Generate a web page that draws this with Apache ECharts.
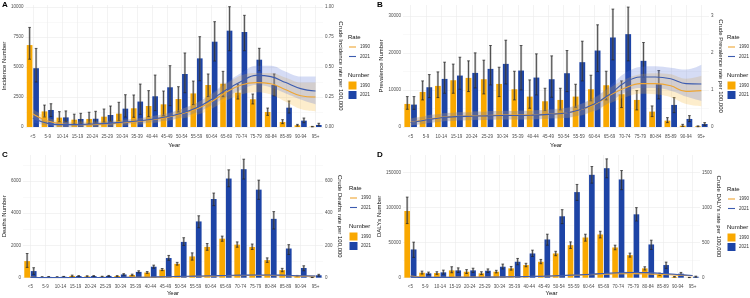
<!DOCTYPE html>
<html>
<head>
<meta charset="utf-8">
<title>Burden by age group, 1990 vs 2021</title>
<script src="https://cdn.jsdelivr.net/npm/echarts@6/dist/echarts.min.js"></script>
<style>
html, body { margin: 0; padding: 0; background: #fff; }
#main { width: 750px; height: 298px; }
</style>
</head>
<body>
<div id="main"></div>
<script>
var ageGroups = ['<5', '5-9', '10-14', '15-19', '20-24', '25-29', '30-34', '35-39', '40-44', '45-49',
    '50-54', '55-59', '60-64', '65-69', '70-74', '75-79', '80-84', '85-89', '90-94', '95+'];

// A - incidence
var inc1990   = [6830, 1300, 780, 610, 670, 860, 1110, 1560, 1750, 1890, 2330, 2800, 3500, 3610, 2860, 2310, 1250, 420, 140, 30];
var inc1990Lo = [5650, 830, 440, 250, 300, 410, 530, 810, 860, 940, 1250, 1860, 2530, 2530, 2330, 1920, 970, 280, 80, 10];
var inc1990Hi = [8300, 1830, 1280, 1070, 1230, 1500, 2060, 2670, 3030, 3000, 3360, 3830, 4420, 4640, 3580, 2750, 1580, 610, 220, 50];
var inc2021   = [4900, 1420, 800, 670, 690, 1000, 1530, 2120, 2560, 3310, 4420, 5720, 7110, 8030, 7920, 5610, 3500, 1610, 530, 170];
var inc2021Lo = [3750, 880, 470, 300, 330, 470, 830, 1060, 1360, 1780, 2860, 3860, 5500, 6360, 6360, 4690, 2600, 1170, 360, 110];
var inc2021Hi = [6550, 1940, 1340, 1140, 1310, 1750, 2690, 3580, 4330, 5110, 6170, 7530, 8780, 10030, 9310, 6560, 4420, 2170, 750, 310];
var incR1990   = [0.108, 0.05, 0.025, 0.02, 0.02, 0.025, 0.035, 0.045, 0.06, 0.08, 0.11, 0.15, 0.21, 0.29, 0.35, 0.37, 0.36, 0.31, 0.26, 0.25];
var incR1990Lo = [0.07, 0.02, 0.0, 0.0, 0.0, 0.0, 0.01, 0.02, 0.03, 0.05, 0.07, 0.1, 0.15, 0.22, 0.27, 0.29, 0.27, 0.21, 0.15, 0.13];
var incR1990Hi = [0.15, 0.08, 0.05, 0.045, 0.045, 0.05, 0.06, 0.07, 0.09, 0.11, 0.15, 0.2, 0.27, 0.36, 0.43, 0.45, 0.45, 0.41, 0.37, 0.37];
var incR2021   = [0.075, 0.03, 0.02, 0.02, 0.025, 0.03, 0.04, 0.05, 0.065, 0.085, 0.115, 0.16, 0.23, 0.31, 0.38, 0.43, 0.42, 0.37, 0.32, 0.30];
var incR2021Lo = [0.04, 0.01, 0.0, 0.005, 0.01, 0.015, 0.025, 0.03, 0.04, 0.055, 0.08, 0.12, 0.18, 0.25, 0.31, 0.35, 0.33, 0.28, 0.23, 0.19];
var incR2021Hi = [0.11, 0.055, 0.04, 0.035, 0.04, 0.045, 0.055, 0.07, 0.09, 0.115, 0.15, 0.2, 0.28, 0.37, 0.45, 0.51, 0.51, 0.46, 0.42, 0.42];

// B - prevalence
var prev1990   = [6220, 9460, 11080, 12610, 13240, 12880, 11620, 10180, 8200, 6940, 7300, 8200, 10180, 11260, 8830, 7300, 4150, 1720, 360, 180];
var prev1990Lo = [4780, 7300, 7930, 9100, 9550, 8920, 8200, 7300, 5050, 4420, 4600, 5320, 7030, 7300, 5230, 4600, 2800, 1180, 150, 80];
var prev1990Hi = [8200, 12430, 14860, 16960, 17840, 18020, 16120, 15040, 12700, 10450, 10450, 11530, 13960, 15040, 12430, 9820, 5680, 2530, 720, 300];
var prev2021   = [6040, 10720, 12970, 13870, 14590, 15670, 17020, 15220, 13330, 12880, 14500, 17480, 20620, 24140, 25040, 17840, 11530, 5950, 2170, 810];
var prev2021Lo = [4780, 7930, 9100, 10180, 10540, 11350, 11620, 10000, 8650, 8020, 9550, 12430, 14950, 18100, 17840, 13420, 7570, 3880, 1450, 450];
var prev2021Hi = [8200, 14140, 17480, 18820, 19990, 21970, 23410, 21970, 19720, 19180, 20620, 23140, 27560, 31800, 32340, 22780, 15220, 7930, 3070, 1180];
var prevR1990   = [0.13, 0.2, 0.26, 0.29, 0.3, 0.31, 0.32, 0.32, 0.33, 0.35, 0.37, 0.45, 0.6, 0.85, 1.05, 1.17, 1.17, 1.11, 0.96, 0.98];
var prevR1990Lo = [0.04, 0.1, 0.15, 0.18, 0.19, 0.2, 0.2, 0.2, 0.21, 0.23, 0.24, 0.3, 0.42, 0.63, 0.8, 0.9, 0.88, 0.8, 0.62, 0.56];
var prevR1990Hi = [0.23, 0.31, 0.37, 0.4, 0.42, 0.43, 0.44, 0.44, 0.45, 0.47, 0.5, 0.6, 0.78, 1.05, 1.28, 1.42, 1.45, 1.42, 1.3, 1.38];
var prevR2021   = [0.12, 0.19, 0.25, 0.28, 0.29, 0.3, 0.31, 0.31, 0.32, 0.34, 0.37, 0.46, 0.62, 0.88, 1.2, 1.35, 1.35, 1.3, 1.17, 1.16];
var prevR2021Lo = [0.03, 0.09, 0.14, 0.17, 0.18, 0.19, 0.2, 0.2, 0.2, 0.22, 0.24, 0.31, 0.44, 0.66, 0.93, 1.05, 1.05, 0.98, 0.82, 0.7];
var prevR2021Hi = [0.22, 0.3, 0.36, 0.39, 0.4, 0.42, 0.43, 0.43, 0.44, 0.47, 0.51, 0.61, 0.8, 1.1, 1.45, 1.62, 1.64, 1.6, 1.55, 1.68];

// C - deaths
var death1990   = [1030, 40, 40, 110, 80, 60, 100, 170, 320, 500, 860, 1320, 1910, 2420, 2050, 1910, 1090, 470, 100, 20];
var death1990Lo = [640, 25, 25, 60, 50, 40, 70, 130, 270, 440, 780, 1090, 1700, 2260, 1890, 1750, 950, 370, 70, 10];
var death1990Hi = [1500, 60, 60, 160, 120, 90, 130, 220, 380, 570, 950, 1540, 2120, 2580, 2220, 2090, 1230, 580, 140, 30];
var death2021   = [410, 50, 60, 100, 100, 110, 200, 360, 680, 1220, 2220, 3490, 4880, 6150, 6730, 5460, 3650, 1810, 600, 150];
var death2021Lo = [210, 35, 40, 70, 70, 80, 160, 300, 590, 1080, 2000, 3100, 4470, 5640, 6120, 4860, 3020, 1440, 430, 100];
var death2021Hi = [620, 70, 80, 130, 130, 140, 250, 430, 780, 1380, 2480, 3840, 5250, 6690, 7350, 6050, 4100, 2050, 740, 210];
var deathR1990   = [4, 0.5, 0.5, 1, 1, 1, 1.5, 2, 3, 4, 6, 8, 10, 12, 13, 14, 14, 12, 10, 9];
var deathR1990Lo = [3, 0.3, 0.3, 0.7, 0.7, 0.7, 1.1, 1.5, 2.3, 3.1, 4.8, 6.5, 8.2, 9.9, 10.6, 11.3, 11.2, 9.5, 7.8, 6.9];
var deathR1990Hi = [5, 0.7, 0.7, 1.3, 1.3, 1.3, 1.9, 2.5, 3.7, 4.9, 7.2, 9.5, 11.8, 14.1, 15.4, 16.7, 16.8, 14.5, 12.2, 11.1];
var deathR2021   = [2, 0.4, 0.4, 0.8, 0.8, 1, 1.5, 2.5, 4, 6, 8, 10, 12, 14, 16, 17, 17, 15, 12, 11];
var deathR2021Lo = [1.5, 0.3, 0.3, 0.6, 0.6, 0.8, 1.2, 2, 3.2, 4.8, 6.5, 8.2, 9.8, 11.4, 13, 13.8, 13.7, 12, 9.6, 8.7];
var deathR2021Hi = [2.5, 0.5, 0.5, 1, 1, 1.2, 1.8, 3, 4.8, 7.2, 9.5, 11.8, 14.2, 16.6, 19, 20.2, 20.3, 18, 14.4, 13.3];

// D - DALYs
var daly1990   = [94900, 7100, 6600, 10400, 8500, 6200, 8500, 13300, 18000, 22700, 34500, 46300, 57200, 61500, 43000, 32100, 13300, 4800, 1200, 300];
var daly1990Lo = [77000, 5200, 4800, 7000, 6000, 4500, 6800, 10800, 15600, 19900, 31300, 41600, 52000, 56600, 39700, 29300, 10900, 3500, 800, 150];
var daly1990Hi = [114700, 9400, 8500, 15600, 11500, 8500, 10500, 16000, 20500, 26000, 37600, 51000, 61900, 66100, 46300, 35000, 15600, 6500, 1600, 450];
var daly2021   = [40200, 6200, 7600, 10400, 10400, 9900, 15600, 22700, 34500, 54400, 87400, 121800, 146400, 155800, 139800, 90200, 47300, 18000, 5700, 1400];
var daly2021Lo = [28900, 4500, 5000, 7500, 7500, 7500, 12500, 18400, 30200, 46300, 77000, 110000, 134600, 142200, 125200, 80700, 40200, 13300, 4000, 800];
var daly2021Hi = [50600, 8000, 10800, 14000, 13500, 12500, 19400, 27400, 39200, 61900, 96800, 132700, 158200, 169100, 152500, 99700, 53400, 22200, 7500, 2200];
var dalyR1990   = [22, 6, 6, 8, 9, 9, 11, 14, 17, 21, 27, 34, 42, 50, 56, 58, 55, 46, 36, 28];
var dalyR1990Lo = [18, 5, 5, 6.5, 7.5, 7.5, 9, 11.5, 14, 17, 22, 28, 35, 42, 47, 48, 45, 37, 28, 21];
var dalyR1990Hi = [26, 7, 7, 9.5, 10.5, 10.5, 13, 16.5, 20, 25, 32, 40, 49, 58, 65, 68, 65, 55, 44, 35];
var dalyR2021   = [12, 4, 4, 6, 7, 8, 10, 13, 17, 22, 29, 38, 48, 60, 70, 75, 72, 60, 45, 32];
var dalyR2021Lo = [9, 3, 3, 4.5, 5.5, 6.5, 8, 10.5, 14, 18, 24, 32, 41, 52, 61, 65, 62, 50, 36, 24];
var dalyR2021Hi = [15, 5, 5, 7.5, 8.5, 9.5, 12, 15.5, 20, 26, 34, 44, 55, 68, 79, 85, 82, 70, 54, 40];

var col1990 = '#F9A800', col2021 = '#1D44A6';
var line1990 = '#EFA633', line2021 = '#3C5CB0';
var rib1990 = 'rgba(246,178,40,0.24)', rib2021 = 'rgba(80,110,215,0.24)';
var barShift = 0.19 + 0.38 * 0.15 / 2;

var panels = [
    { tag: 'A', left: 24, top: 5, width: 299, height: 122,
      numName: 'Incidence Number', rateName: 'Crude Incidence rate per 100,000',
      numMax: 10170, numStep: 2500, rateMax: 1.017, rateStep: 0.25, digits: 2,
      gapL: 15, gapR: 13, gapX: 15, legX: 348, legY: 37,
      nums: [inc1990, inc1990Lo, inc1990Hi, inc2021, inc2021Lo, inc2021Hi],
      rates: [incR1990, incR1990Lo, incR1990Hi, incR2021, incR2021Lo, incR2021Hi] },
    { tag: 'B', left: 403, top: 5, width: 306, height: 122,
      numName: 'Prevalence Number', rateName: 'Crude Prevalence rate per 100,000',
      numMax: 32900, numStep: 10000, rateMax: 3.29, rateStep: 1, digits: 0,
      gapL: 19, gapR: 5, gapX: 15, legX: 727, legY: 37,
      nums: [prev1990, prev1990Lo, prev1990Hi, prev2021, prev2021Lo, prev2021Hi],
      rates: [prevR1990, prevR1990Lo, prevR1990Hi, prevR2021, prevR2021Lo, prevR2021Hi] },
    { tag: 'C', left: 22, top: 155, width: 301, height: 122.7,
      numName: 'Deaths Number', rateName: 'Crude Deaths rate per 100,000',
      numMax: 7610, numStep: 2000, rateMax: 761, rateStep: 200, digits: 0,
      gapL: 15, gapR: 13, gapX: 12, legX: 349, legY: 188,
      nums: [death1990, death1990Lo, death1990Hi, death2021, death2021Lo, death2021Hi],
      rates: [deathR1990, deathR1990Lo, deathR1990Hi, deathR2021, deathR2021Lo, deathR2021Hi] },
    { tag: 'D', left: 403, top: 155, width: 297, height: 122.7,
      numName: 'DALYs Number', rateName: 'Crude DALYs rate per 100,000',
      numMax: 174600, numStep: 50000, rateMax: 1746, rateStep: 500, digits: 0,
      gapL: 18, gapR: 14, gapX: 12, legX: 727, legY: 189,
      nums: [daly1990, daly1990Lo, daly1990Hi, daly2021, daly2021Lo, daly2021Hi],
      rates: [dalyR1990, dalyR1990Lo, dalyR1990Hi, dalyR2021, dalyR2021Lo, dalyR2021Hi] }
];

var tickFont = { fontSize: 4.5, color: '#4D4D4D', fontFamily: 'Liberation Sans' };
var titleFont = { fontSize: 6, color: '#111', fontFamily: 'Liberation Sans' };

function errorBarItem(side) {
    return function (params, api) {
        var lo = api.coord([api.value(0), api.value(1)]);
        var hi = api.coord([api.value(0), api.value(2)]);
        var band = api.size([1, 0])[0];
        var x = lo[0] + side * band * barShift;
        var cap = band * 0.09;
        return {
            type: 'group',
            children: [
                { type: 'line', shape: { x1: x, y1: lo[1], x2: x, y2: hi[1] }, style: { stroke: 'rgba(110,110,110,0.45)', lineWidth: 2.2 } },
                { type: 'line', shape: { x1: x, y1: lo[1], x2: x, y2: hi[1] }, style: { stroke: '#222', lineWidth: 0.7 } },
                { type: 'line', shape: { x1: x - cap, y1: hi[1], x2: x + cap, y2: hi[1] }, style: { stroke: '#222', lineWidth: 0.7 } },
                { type: 'line', shape: { x1: x - cap, y1: lo[1], x2: x + cap, y2: lo[1] }, style: { stroke: '#222', lineWidth: 0.7 } }
            ]
        };
    };
}

function diff(hi, lo) {
    return hi.map(function (v, i) { return +(v - lo[i]).toFixed(4); });
}

function valueAxis(p, idx, isRate) {
    var step = isRate ? p.rateStep : p.numStep;
    return {
        type: 'value', gridIndex: idx, position: isRate ? 'right' : 'left',
        min: 0, max: isRate ? p.rateMax : p.numMax, interval: step,
        name: isRate ? p.rateName : p.numName,
        nameLocation: 'middle', nameRotate: isRate ? -90 : 90,
        nameGap: isRate ? p.gapR : p.gapL, nameTextStyle: titleFont,
        axisLine: { show: false }, axisTick: { show: false },
        axisLabel: {
            margin: 2, showMaxLabel: false, fontSize: tickFont.fontSize, color: tickFont.color,
            formatter: function (v) { return isRate ? v.toFixed(p.digits) : String(v); }
        },
        splitLine: { show: !isRate, showMaxLine: false, lineStyle: { color: '#EBEBEB', width: 0.6 } },
        minorTick: { show: false, splitNumber: 2 },
        minorSplitLine: { show: !isRate, lineStyle: { color: '#F3F3F3', width: 0.5 } }
    };
}

var option = {
    animation: false,
    backgroundColor: '#fff',
    textStyle: { fontFamily: 'Liberation Sans' },
    grid: [], xAxis: [], yAxis: [], series: [], graphic: []
};

panels.forEach(function (p, idx) {
    option.grid.push({ left: p.left, top: p.top, width: p.width, height: p.height });
    option.xAxis.push({
        type: 'category', gridIndex: idx, data: ageGroups,
        name: 'Year', nameLocation: 'middle', nameGap: p.gapX, nameTextStyle: titleFont,
        axisLine: { show: false }, axisTick: { show: false },
        axisLabel: { interval: 0, margin: 7, fontSize: tickFont.fontSize, color: tickFont.color },
        splitLine: { show: true, alignWithLabel: true, lineStyle: { color: '#EBEBEB', width: 0.6 } }
    });
    option.yAxis.push(valueAxis(p, idx, false));
    option.yAxis.push(valueAxis(p, idx, true));

    var nY = idx * 2, rY = idx * 2 + 1;
    var n = p.nums, r = p.rates;

    // bars
    [[n[0], col1990, '1990'], [n[3], col2021, '2021']].forEach(function (b) {
        option.series.push({
            type: 'bar', name: b[2], xAxisIndex: idx, yAxisIndex: nY, data: b[0],
            barWidth: '38%', barGap: '15%', itemStyle: { color: b[1] }, z: 2
        });
    });

    // error bars
    [[n[1], n[2], -1], [n[4], n[5], 1]].forEach(function (e) {
        option.series.push({
            type: 'custom', xAxisIndex: idx, yAxisIndex: nY, z: 3,
            renderItem: errorBarItem(e[2]),
            encode: { x: 0, y: [1, 2] },
            data: ageGroups.map(function (g, i) { return [i, e[0][i], e[1][i]]; })
        });
    });

    // ribbons (stacked lower + band)
    [[r[1], r[2], rib1990, 'r90'], [r[4], r[5], rib2021, 'r21']].forEach(function (rb) {
        var stack = rb[3] + idx;
        option.series.push({
            type: 'line', xAxisIndex: idx, yAxisIndex: rY, stack: stack, data: rb[0],
            smooth: 0.4, symbol: 'none', lineStyle: { opacity: 0 }, z: 4, silent: true
        });
        option.series.push({
            type: 'line', xAxisIndex: idx, yAxisIndex: rY, stack: stack, data: diff(rb[1], rb[0]),
            smooth: 0.4, symbol: 'none', lineStyle: { opacity: 0 }, areaStyle: { color: rb[2], opacity: 1 }, z: 4, silent: true
        });
    });

    // rate lines
    [[r[0], line1990], [r[3], line2021]].forEach(function (ln) {
        option.series.push({
            type: 'line', xAxisIndex: idx, yAxisIndex: rY, data: ln[0],
            smooth: 0.4, symbol: 'none', lineStyle: { color: ln[1], width: 1.1 }, z: 5
        });
    });

    // panel tag + legend
    var lx = p.legX, ly = p.legY;
    option.graphic.push(
        { type: 'text', style: { text: p.tag, x: p.tag === 'A' || p.tag === 'C' ? 2 : 377, y: p.top, font: 'bold 8px Liberation Sans', fill: '#000', textVerticalAlign: 'middle' } },
        { type: 'text', style: { text: 'Rate', x: lx, y: ly, font: '6px Liberation Sans', fill: '#111', textVerticalAlign: 'middle' } },
        { type: 'line', shape: { x1: lx + 1, y1: ly + 10, x2: lx + 8, y2: ly + 10 }, style: { stroke: line1990, lineWidth: 1.1 } },
        { type: 'line', shape: { x1: lx + 1, y1: ly + 19.5, x2: lx + 8, y2: ly + 19.5 }, style: { stroke: line2021, lineWidth: 1.1 } },
        { type: 'text', style: { text: '1990', x: lx + 12, y: ly + 10, font: '4.5px Liberation Sans', fill: '#333', textVerticalAlign: 'middle' } },
        { type: 'text', style: { text: '2021', x: lx + 12, y: ly + 19.5, font: '4.5px Liberation Sans', fill: '#333', textVerticalAlign: 'middle' } },
        { type: 'text', style: { text: 'Number', x: lx, y: ly + 38, font: '6px Liberation Sans', fill: '#111', textVerticalAlign: 'middle' } },
        { type: 'rect', shape: { x: lx + 0.5, y: ly + 44.5, width: 8, height: 8 }, style: { fill: col1990 } },
        { type: 'rect', shape: { x: lx + 0.5, y: ly + 54, width: 8, height: 8 }, style: { fill: col2021 } },
        { type: 'text', style: { text: '1990', x: lx + 12, y: ly + 48.5, font: '4.5px Liberation Sans', fill: '#333', textVerticalAlign: 'middle' } },
        { type: 'text', style: { text: '2021', x: lx + 12, y: ly + 58, font: '4.5px Liberation Sans', fill: '#333', textVerticalAlign: 'middle' } }
    );
});

var chart = echarts.init(document.getElementById('main'));
chart.setOption(option);
</script>
</body>
</html>
